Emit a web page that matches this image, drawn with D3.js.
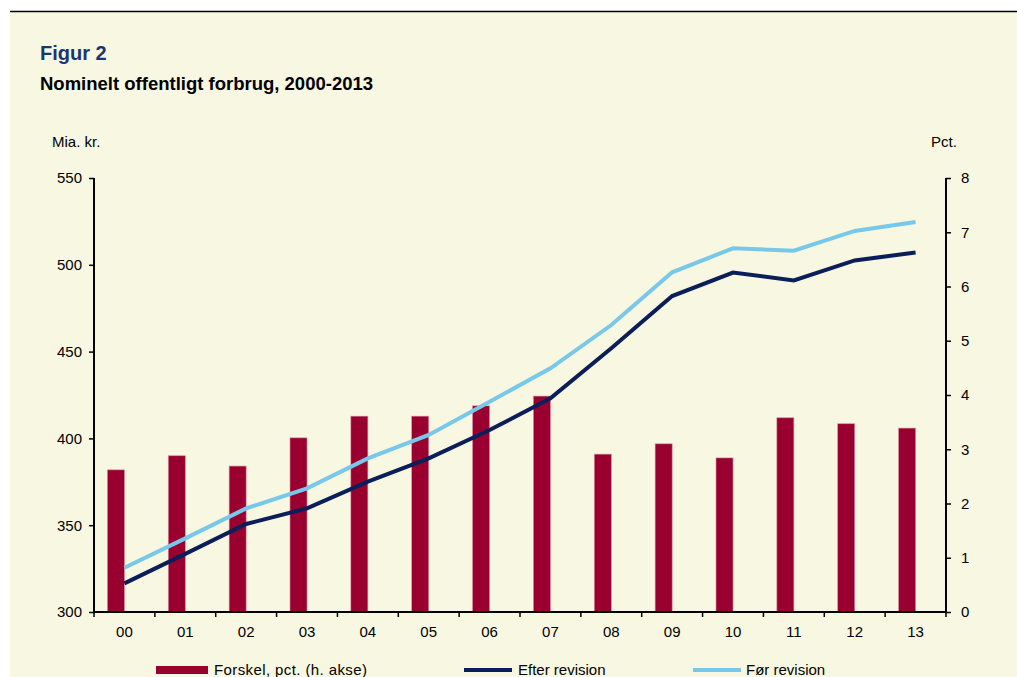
<!DOCTYPE html>
<html>
<head>
<meta charset="utf-8">
<script src="https://cdnjs.cloudflare.com/ajax/libs/d3/7.8.5/d3.min.js"></script>
<style>
  body { margin: 0; background: #fff; }
  text { font-family: "Liberation Sans", Arial, sans-serif; }
</style>
</head>
<body>
<svg id="chart" width="1017" height="677"></svg>
<script>
// data
const years = ["00", "01", "02", "03", "04", "05", "06", "07", "08", "09", "10", "11", "12", "13"];
const forskel = [2.62, 2.88, 2.69, 3.21, 3.61, 3.61, 3.80, 3.98, 2.91, 3.10, 2.84, 3.58, 3.47, 3.39];
const efter = [316.5, 333.5, 350.7, 359.7, 375.1, 388.5, 404.8, 423.1, 451.9, 482.0, 495.5, 491.0, 502.5, 507.1];
const foer = [325.5, 342.4, 359.7, 371.2, 388.5, 402.0, 421.1, 440.4, 465.3, 495.7, 509.5, 508.1, 519.5, 524.7];
const leftTicks = [300, 350, 400, 450, 500, 550];
const rightTicks = [0, 1, 2, 3, 4, 5, 6, 7, 8];

const svg = d3.select("#chart");
const W = 1017, H = 677;

// background + top rule
svg.append("rect").attr("x", 10).attr("y", 11).attr("width", W - 10).attr("height", H - 11).attr("fill", "#F8F7E1");
svg.append("line").attr("x1", 10).attr("x2", W).attr("y1", 11.5).attr("y2", 11.5)
  .attr("stroke", "#000").attr("stroke-width", 1.3);

svg.append("text").attr("x", 40).attr("y", 60)
  .attr("font-size", 20).attr("font-weight", "bold").attr("fill", "#1C3570")
  .text("Figur 2");
svg.append("text").attr("x", 40).attr("y", 90)
  .attr("font-size", 18.5).attr("font-weight", "bold").attr("fill", "#000")
  .text("Nominelt offentligt forbrug, 2000-2013");

const plotL = 94, plotR = 946, plotT = 178, plotB = 612;

const x = d3.scaleBand().domain(years).range([plotL, plotR]);
const yL = d3.scaleLinear().domain([300, 550]).range([plotB, plotT]);
const yR = d3.scaleLinear().domain([0, 8]).range([plotB, plotT]);

// bars (h. akse) sit just left of the category centre
const barW = 17;
svg.append("g").selectAll("rect")
  .data(forskel)
  .join("rect")
  .attr("x", (d, i) => x(years[i]) + x.bandwidth() / 2 - barW)
  .attr("y", d => yR(d))
  .attr("width", barW)
  .attr("height", d => yR(0) - yR(d))
  .attr("fill", "#990030")
  .attr("stroke", "#D98A9E")
  .attr("stroke-width", 0.6);

const line = d3.line()
  .x((d, i) => x(years[i]) + x.bandwidth() / 2)
  .y(d => yL(d));

svg.append("path").datum(foer).attr("d", line)
  .attr("fill", "none").attr("stroke", "#78C8EA").attr("stroke-width", 4);
svg.append("path").datum(efter).attr("d", line)
  .attr("fill", "none").attr("stroke", "#0A1E5A").attr("stroke-width", 4);

// axes
const fontSize = 15;
const gl = svg.append("g").attr("transform", `translate(${plotL},0)`)
  .call(d3.axisLeft(yL).tickValues(leftTicks).tickSize(5).tickPadding(7));
const gr = svg.append("g").attr("transform", `translate(${plotR},0)`)
  .call(d3.axisRight(yR).tickValues(rightTicks).tickSize(5).tickPadding(10));
const gx = svg.append("g").attr("transform", `translate(0,${plotB})`)
  .call(d3.axisBottom(x).tickSize(0).tickPadding(14));

// x ticks at band boundaries
svg.append("g").selectAll("line")
  .data(d3.range(years.length + 1))
  .join("line")
  .attr("x1", i => plotL + i * x.step()).attr("x2", i => plotL + i * x.step())
  .attr("y1", plotB).attr("y2", plotB + 5)
  .attr("stroke", "#000").attr("stroke-width", 1.5);

[gl, gr, gx].forEach(g => {
  g.attr("font-size", fontSize).attr("font-family", "Liberation Sans, Arial, sans-serif");
  g.selectAll("path.domain").attr("stroke", "#000").attr("stroke-width", 2);
  g.selectAll(".tick line").attr("stroke", "#000").attr("stroke-width", 1.5);
  g.selectAll("text").attr("font-size", fontSize).attr("fill", "#000");
});
gl.select("path.domain").attr("d", `M0,${plotB}V${plotT}`);
gr.select("path.domain").attr("d", `M0,${plotB}V${plotT}`);
gx.select("path.domain").attr("d", `M${plotL},0H${plotR}`);

svg.append("text").attr("x", 52).attr("y", 147).attr("font-size", 15).text("Mia. kr.");
svg.append("text").attr("x", 931).attr("y", 147).attr("font-size", 15).text("Pct.");

// legend
const ly = 670;
svg.append("rect").attr("x", 156).attr("y", ly - 4).attr("width", 52).attr("height", 8).attr("fill", "#990030");
svg.append("text").attr("x", 214).attr("y", ly + 5).attr("font-size", 15)
  .attr("letter-spacing", 0.4).text("Forskel, pct. (h. akse)");
svg.append("line").attr("x1", 464).attr("x2", 512).attr("y1", ly).attr("y2", ly)
  .attr("stroke", "#0A1E5A").attr("stroke-width", 4);
svg.append("text").attr("x", 518).attr("y", ly + 5).attr("font-size", 15).text("Efter revision");
svg.append("line").attr("x1", 693).attr("x2", 741).attr("y1", ly).attr("y2", ly)
  .attr("stroke", "#78C8EA").attr("stroke-width", 4);
svg.append("text").attr("x", 746).attr("y", ly + 5).attr("font-size", 15).text("Før revision");
</script>
</body>
</html>
